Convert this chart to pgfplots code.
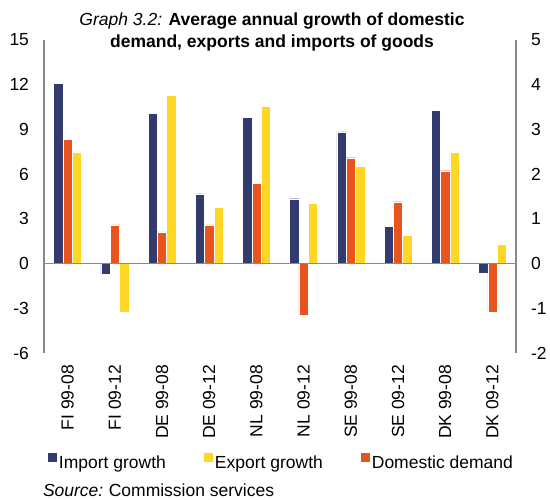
\documentclass[border=0pt]{standalone}
\usepackage{fontspec}
\setmainfont{Liberation Sans}
\usepackage{pgfplots}
\pgfplotsset{compat=1.18}
\definecolor{navy}{HTML}{333A6E}
\definecolor{orng}{HTML}{E8541C}
\definecolor{yel}{HTML}{FFD624}
\definecolor{axgray}{HTML}{8A8A8A}
\begin{document}
\fontsize{17.5}{21}\selectfont
\begin{tikzpicture}
\useasboundingbox (0,0) rectangle (550pt,500pt);
\begin{axis}[
 at={(44pt,147pt)}, anchor=south west,
 scale only axis, width=472pt, height=313pt,
 xmin=-0.5, xmax=9.5, ymin=-6, ymax=15,
 ytick={-6,-3,...,15},
 xtick={0,...,9},
 xticklabels={FI 99-08, FI 09-12, DE 99-08, DE 09-12, NL 99-08, NL 09-12, SE 99-08, SE 09-12, DK 99-08, DK 09-12},
 axis y line*=left, axis x line*=bottom,
 x axis line style={draw=none},
 y axis line style={axgray, line width=1.8pt, -},
 major tick length=0pt,
 xticklabel style={rotate=90, anchor=east},
 xticklabel shift=6pt,
 yticklabel shift=9pt,
 /pgf/number format/assume math mode=true,
 ybar, bar width=9.3pt,
 legend columns=3,
 legend style={draw=none, fill=none, at={(0.503,-0.351)}, anchor=center,
   /tikz/every even column/.append style={column sep=36pt}},
 legend image code/.code={\draw[#1,draw=none] (0pt,1.5pt) rectangle (9pt,10.5pt);},
]
\addplot[fill=navy, draw=white, line width=0.4pt, bar shift=-9.3pt] coordinates {
 (0,12.1) (1,-0.74) (2,10.09) (3,4.67) (4,9.8) (5,4.35) (6,8.84) (7,2.52) (8,10.27) (9,-0.65)};
\addlegendentry{Import growth}
\addplot[fill=yel, draw=white, line width=0.4pt, bar shift=9.3pt] coordinates {
 (0,7.5) (1,-3.26) (2,11.29) (3,3.77) (4,10.58) (5,4.04) (6,6.56) (7,1.875) (8,7.46) (9,1.27)};
\addlegendentry{Export growth}
\addplot[fill=orng, draw=white, line width=0.4pt, bar shift=0pt] coordinates {
 (0,8.35) (1,2.59) (2,2.12) (3,2.59) (4,5.4) (5,-3.44) (6,7.1) (7,4.15) (8,6.23) (9,-3.24)};
\addlegendentry{Domestic demand}
\draw[axgray, line width=1.8pt] (axis cs:-0.5,0) -- (axis cs:9.5,0);
\end{axis}
\begin{axis}[
 at={(44pt,147pt)}, anchor=south west,
 scale only axis, width=472pt, height=313pt,
 xmin=-0.5, xmax=9.5, ymin=-2, ymax=5,
 ytick={-2,...,5},
 axis y line*=right, axis x line=none,
 y axis line style={axgray, line width=1.8pt, -},
 major tick length=0pt,
 yticklabel shift=9pt,
 /pgf/number format/assume math mode=true,
]
\end{axis}
\node[align=center] at (272pt,468pt) {\textit{Graph 3.2:} \textbf{Average annual growth of domestic}\\[1pt]\textbf{demand, exports and imports of goods}};
\node[anchor=west] at (37pt,10pt) {\textit{Source:}\hspace{-1pt} Commission services};
\end{tikzpicture}
\end{document}
